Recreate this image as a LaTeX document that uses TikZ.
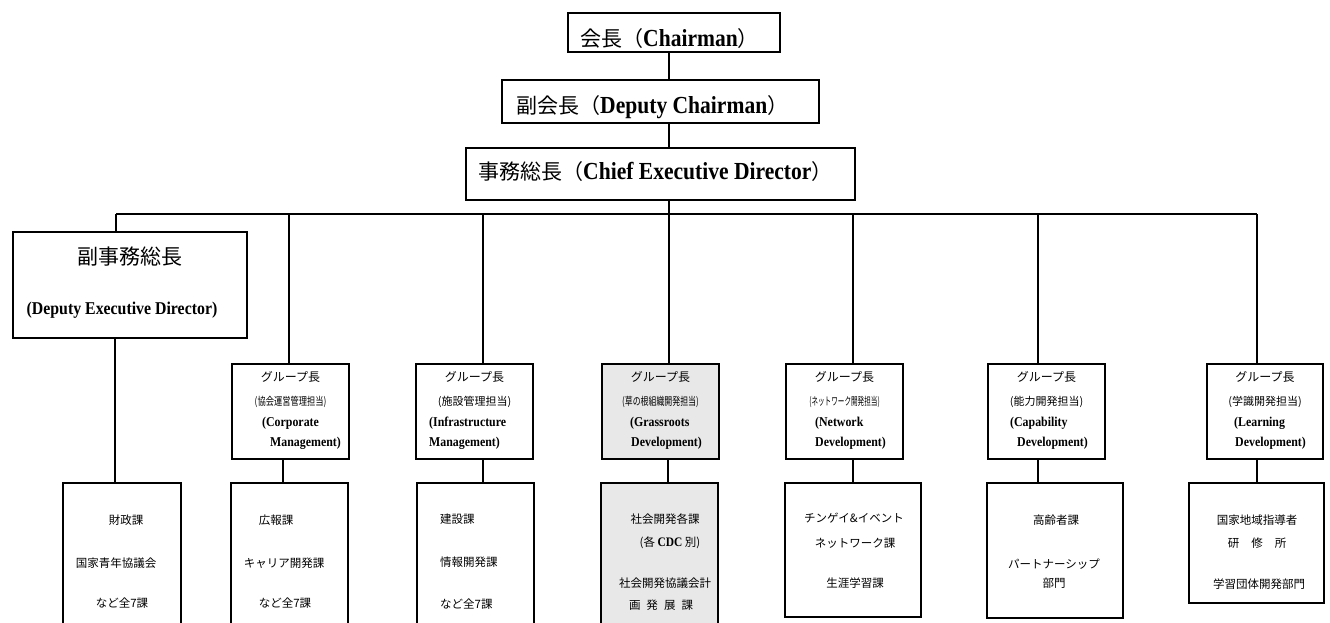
\documentclass[tikz,border=0pt]{standalone}
\usepackage{graphicx}
\usepackage{fontspec}
\setmainfont{Liberation Serif}
\newfontfamily\jp{Noto Sans CJK JP}
\newfontfamily\lat[FakeStretch=0.88]{Liberation Serif}
\definecolor{boxgray}{RGB}{232,232,232}
\newcommand{\jtx}[2]{{\fontsize{#1}{#1}\jp #2}}
\newcommand{\etx}[2]{{\fontsize{#1}{#1}\lat\bfseries #2}}
\begin{document}
\begin{tikzpicture}[x=1pt,y=-1pt,
  bx/.style={draw, line width=1.6pt, inner sep=0pt},
  gbx/.style={bx, fill=boxgray},
  conn/.style={line width=1.3pt},
  tx/.style={inner sep=0pt}]
\useasboundingbox (0,0) rectangle (1330,622);
\clip (0,0) rectangle (1330,622);

% ---- top chain
\node[bx, minimum width=212pt, minimum height=39pt] (chair) at (674,32.5) {};
\node[tx, anchor=west] (chairT) at (580,39) {\jtx{21}{会長（}\etx{24.5}{Chairman}\jtx{21}{）}};
\node[bx, minimum width=317pt, minimum height=43pt] (dep) at (660.5,101.5) {};
\node[tx, anchor=west] (depT) at (516,107) {\jtx{21}{副会長（}\etx{24.5}{Deputy Chairman}\jtx{21}{）}};
\node[bx, minimum width=389pt, minimum height=52pt] (chief) at (660.5,174) {};
\node[tx, anchor=west] (chiefT) at (478,172) {\jtx{21}{事務総長（}\etx{24.5}{Chief Executive Director}\jtx{21}{）}};

\coordinate (bc) at (669,214);
\coordinate (b0) at (116,214);
\coordinate (b1) at (289,214);
\coordinate (b2) at (483,214);
\coordinate (b3) at (669,214);
\coordinate (b4) at (853,214);
\coordinate (b5) at (1038,214);
\coordinate (b6) at (1257,214);
\coordinate (l0) at (115,0);
\coordinate (l1) at (283,0);
\coordinate (l2) at (483,0);
\coordinate (l3) at (668,0);
\coordinate (l4) at (853,0);
\coordinate (l5) at (1038,0);
\coordinate (l6) at (1257,0);

\draw[conn] (chair.south -| bc) -- (dep.north -| bc);
\draw[conn] (dep.south -| bc) -- (chief.north -| bc);
\draw[conn] (chief.south -| bc) -- (bc);
\draw[conn] (b0) -- (b6);

% ---- deputy executive director
\node[bx, minimum width=234pt, minimum height=106pt] (dx) at (130,285) {};
\node[tx] (dxA) at (130,257) {\jtx{21}{副事務総長}};
\node[tx] (dxB) at (122,310) {\etx{18}{(Deputy Executive Director)}};
\draw[conn] (b0) -- (dx.north -| b0);

% ---- group boxes
\node[bx, minimum width=117pt, minimum height=95pt] (g1) at (290.5,411.5) {};
\node[bx, minimum width=117pt, minimum height=95pt] (g2) at (474.5,411.5) {};
\node[gbx, minimum width=117pt, minimum height=95pt] (g3) at (660.5,411.5) {};
\node[bx, minimum width=117pt, minimum height=95pt] (g4) at (844.5,411.5) {};
\node[bx, minimum width=117pt, minimum height=95pt] (g5) at (1046.5,411.5) {};
\node[bx, minimum width=116pt, minimum height=95pt] (g6) at (1265,411.5) {};

\draw[conn] (b1) -- (g1.north -| b1);
\draw[conn] (b2) -- (g2.north -| b2);
\draw[conn] (b3) -- (g3.north -| b3);
\draw[conn] (b4) -- (g4.north -| b4);
\draw[conn] (b5) -- (g5.north -| b5);
\draw[conn] (b6) -- (g6.north -| b6);

\node[tx] (g1a) at (290.5,377) {\jtx{12}{グループ長}};
\node[tx] (g1b) at (290.5,402) {\jtx{11}{\scalebox{0.75}[1]{(協会運営管理担当)}}};
\node[tx, anchor=west] (g1c) at (262,423) {\etx{13.5}{(Corporate}};
\node[tx, anchor=west] (g1d) at (270,443) {\etx{13.5}{Management)}};

\node[tx] (g2a) at (474.5,377) {\jtx{12}{グループ長}};
\node[tx] (g2b) at (474.5,402) {\jtx{11}{(施設管理担当)}};
\node[tx, anchor=west] (g2c) at (429,423) {\etx{13.5}{(Infrastructure}};
\node[tx, anchor=west] (g2d) at (429,443) {\etx{13.5}{Management)}};

\node[tx] (g3a) at (660.5,377) {\jtx{12}{グループ長}};
\node[tx] (g3b) at (660.5,402) {\jtx{11}{\scalebox{0.72}[1]{(草の根組織開発担当)}}};
\node[tx, anchor=west] (g3c) at (630,423) {\etx{13.5}{(Grassroots}};
\node[tx, anchor=west] (g3d) at (631,443) {\etx{13.5}{Development)}};

\node[tx] (g4a) at (844.5,377) {\jtx{12}{グループ長}};
\node[tx] (g4b) at (844.5,402) {\jtx{11}{\scalebox{0.6}[1]{(ネットワーク開発担当)}}};
\node[tx, anchor=west] (g4c) at (815,423) {\etx{13.5}{(Network}};
\node[tx, anchor=west] (g4d) at (815,443) {\etx{13.5}{Development)}};

\node[tx] (g5a) at (1046.5,377) {\jtx{12}{グループ長}};
\node[tx] (g5b) at (1046.5,402) {\jtx{11}{(能力開発担当)}};
\node[tx, anchor=west] (g5c) at (1010,423) {\etx{13.5}{(Capability}};
\node[tx, anchor=west] (g5d) at (1017,443) {\etx{13.5}{Development)}};

\node[tx] (g6a) at (1265,377) {\jtx{12}{グループ長}};
\node[tx] (g6b) at (1265,402) {\jtx{11}{(学識開発担当)}};
\node[tx, anchor=west] (g6c) at (1234,423) {\etx{13.5}{(Learning}};
\node[tx, anchor=west] (g6d) at (1235,443) {\etx{13.5}{Development)}};

% ---- section boxes
\node[bx, minimum width=118pt, minimum height=167pt] (s0) at (122,566.5) {};
\node[bx, minimum width=117pt, minimum height=167pt] (s1) at (289.5,566.5) {};
\node[bx, minimum width=117pt, minimum height=167pt] (s2) at (475.5,566.5) {};
\node[gbx, minimum width=117pt, minimum height=167pt] (s3) at (659.5,566.5) {};
\node[bx, minimum width=136pt, minimum height=134pt] (s4) at (853,550) {};
\node[bx, minimum width=136pt, minimum height=135pt] (s5) at (1055,550.5) {};
\node[bx, minimum width=135pt, minimum height=120pt] (s6) at (1256.5,543) {};

\draw[conn] (dx.south -| l0) -- (s0.north -| l0);
\draw[conn] (g1.south -| l1) -- (s1.north -| l1);
\draw[conn] (g2.south -| l2) -- (s2.north -| l2);
\draw[conn] (g3.south -| l3) -- (s3.north -| l3);
\draw[conn] (g4.south -| l4) -- (s4.north -| l4);
\draw[conn] (g5.south -| l5) -- (s5.north -| l5);
\draw[conn] (g6.south -| l6) -- (s6.north -| l6);

\node[tx] (s0a) at (126,520) {\jtx{11.5}{財政課}};
\node[tx] (s0b) at (116,563) {\jtx{11.5}{国家青年協議会}};
\node[tx] (s0c) at (122,603) {\jtx{11.5}{など全7課}};

\node[tx] (s1a) at (276,520) {\jtx{11.5}{広報課}};
\node[tx] (s1b) at (284,563) {\jtx{11.5}{キャリア開発課}};
\node[tx] (s1c) at (285,603) {\jtx{11.5}{など全7課}};

\node[tx, anchor=west] (s2a) at (440,519) {\jtx{11.5}{建設課}};
\node[tx, anchor=west] (s2b) at (440,562) {\jtx{11.5}{情報開発課}};
\node[tx, anchor=west] (s2c) at (440,604) {\jtx{11.5}{など全7課}};

\node[tx] (s3a) at (665,519) {\jtx{11.5}{社会開発各課}};
\node[tx] (s3b) at (670,543) {\jtx{11.5}{(各 }\etx{13}{CDC}\jtx{11.5}{ 別)}};
\node[tx] (s3c) at (665,583) {\jtx{11.5}{社会開発協議会計}};
\node[tx] (s3d) at (661,605) {\jtx{11.5}{画\hspace{6pt}発\hspace{6pt}展\hspace{6pt}課}};

\node[tx] (s4a) at (854,518) {\jtx{11.5}{チンゲイ\&イベント}};
\node[tx] (s4b) at (855,543) {\jtx{11.5}{ネットワーク課}};
\node[tx] (s4c) at (855,583) {\jtx{11.5}{生涯学習課}};

\node[tx] (s5a) at (1056,520) {\jtx{11.5}{高齢者課}};
\node[tx] (s5b) at (1054,564) {\jtx{11.5}{パートナーシップ}};
\node[tx] (s5c) at (1054,583) {\jtx{11.5}{部門}};

\node[tx] (s6a) at (1257,520) {\jtx{11.5}{国家地域指導者}};
\node[tx] (s6b) at (1257,543) {\jtx{11.5}{研\hspace{12pt}修\hspace{12pt}所}};
\node[tx] (s6c) at (1259,584) {\jtx{11.5}{学習団体開発部門}};
\end{tikzpicture}
\end{document}
